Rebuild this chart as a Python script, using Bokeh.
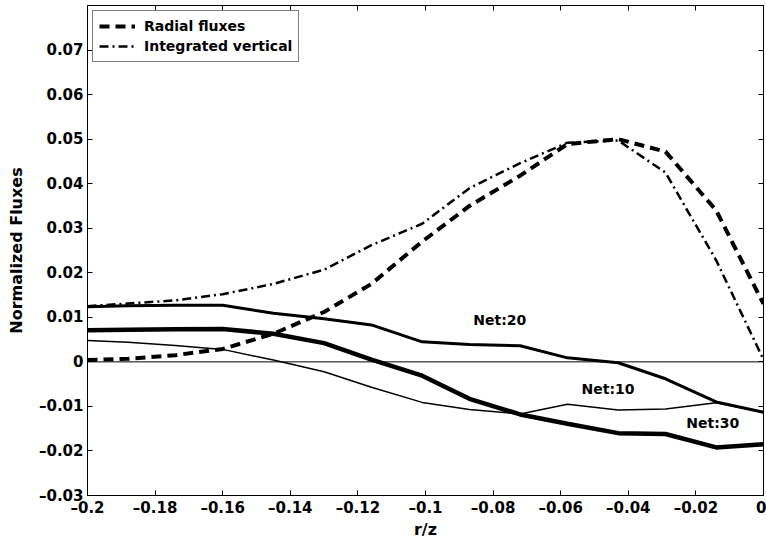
from bokeh.plotting import figure
from bokeh.models import (Range1d, LinearAxis, FixedTicker, Span, Legend,
                          LegendItem, Label)
from bokeh.embed import file_html
from bokeh.resources import INLINE

# radial position grid (r/z)
r_z = [-0.2, -0.188, -0.174, -0.16, -0.145, -0.13, -0.116, -0.101,
       -0.087, -0.072, -0.058, -0.043, -0.029, -0.014, 0.0]

radial_fluxes = [0.0004, 0.0007, 0.0015, 0.0029, 0.0063, 0.0112, 0.0175, 0.0270,
                 0.0350, 0.0418, 0.0489, 0.0500, 0.0472, 0.0340, 0.0130]
integrated_vertical = [0.0125, 0.0131, 0.0138, 0.0152, 0.0175, 0.0207, 0.0262, 0.0310,
                       0.0390, 0.0446, 0.0492, 0.0497, 0.0425, 0.0228, 0.0005]
net_10 = [0.0048, 0.0044, 0.0037, 0.0028, 0.0004, -0.0022, -0.0057, -0.0091,
          -0.0107, -0.0117, -0.0095, -0.0108, -0.0106, -0.0092, -0.0113]
net_20 = [0.0124, 0.0126, 0.0127, 0.0127, 0.0109, 0.0097, 0.0083, 0.0045,
          0.0039, 0.0036, 0.0009, -0.0002, -0.0038, -0.0090, -0.0113]
net_30 = [0.0071, 0.0072, 0.0073, 0.0074, 0.0063, 0.0042, 0.0005, -0.0031,
          -0.0083, -0.0118, -0.0139, -0.0160, -0.0162, -0.0192, -0.0185]

x_ticks = [-0.2, -0.18, -0.16, -0.14, -0.12, -0.1, -0.08, -0.06, -0.04, -0.02, 0]
y_ticks = [-0.03, -0.02, -0.01, 0, 0.01, 0.02, 0.03, 0.04, 0.05, 0.06, 0.07]
x_tick_labels = ["\u20130.2", "\u20130.18", "\u20130.16", "\u20130.14", "\u20130.12",
                 "\u20130.1", "\u20130.08", "\u20130.06", "\u20130.04", "\u20130.02", "0"]
y_tick_labels = ["\u20130.03", "\u20130.02", "\u20130.01", "0", "0.01", "0.02",
                 "0.03", "0.04", "0.05", "0.06", "0.07"]

# curve annotations: (text, x, y)
net_labels = [("Net:20", -0.078, 0.0093), ("Net:10", -0.046, -0.0060),
              ("Net:30", -0.015, -0.0138)]

FONT = "DejaVu Sans"

p = figure(width=766, height=541, output_backend="svg", toolbar_location=None,
           x_range=Range1d(-0.2, 0.0), y_range=Range1d(-0.03, 0.08),
           min_border_left=87, min_border_right=3, min_border_top=5,
           min_border_bottom=46)
p.background_fill_color = "white"
p.border_fill_color = "white"
p.outline_line_color = "black"
p.outline_line_width = 1
p.xgrid.visible = False
p.ygrid.visible = False

for ax, ticks, labels in ((p.xaxis[0], x_ticks, x_tick_labels),
                          (p.yaxis[0], y_ticks, y_tick_labels)):
    ax.ticker = FixedTicker(ticks=ticks)
    ax.major_label_overrides = dict(zip(ticks, labels))
    ax.minor_tick_line_color = None
    ax.major_tick_in = 5
    ax.major_tick_out = 0
    ax.axis_line_color = "black"
    ax.major_label_text_font = FONT
    ax.major_label_text_font_style = "bold"
    ax.major_label_text_font_size = "15px"
    ax.major_label_text_color = "black"
    ax.axis_label_text_font = FONT
    ax.axis_label_text_font_style = "bold"
    ax.axis_label_text_font_size = "16px"
    ax.axis_label_text_color = "black"

p.xaxis.axis_label = "r/z"
p.yaxis.axis_label = "Normalized Fluxes"
p.xaxis.major_label_standoff = 3
p.yaxis.major_label_standoff = 4
p.xaxis.axis_label_standoff = 0
p.yaxis.axis_label_standoff = 10

# mirrored ticks on the top and right edges of the box
top_ax = LinearAxis(ticker=FixedTicker(ticks=x_ticks), major_label_text_font_size="0px",
                    major_tick_in=5, major_tick_out=0, minor_tick_line_color=None,
                    axis_line_color="black")
right_ax = LinearAxis(ticker=FixedTicker(ticks=y_ticks), major_label_text_font_size="0px",
                      major_tick_in=5, major_tick_out=0, minor_tick_line_color=None,
                      axis_line_color="black")
p.add_layout(top_ax, "above")
p.add_layout(right_ax, "right")

p.add_layout(Span(location=0, dimension="width", line_color="black", line_width=1))

r_rad = p.line(r_z, radial_fluxes, line_color="black", line_width=4, line_dash="10 6")
r_int = p.line(r_z, integrated_vertical, line_color="black", line_width=2.5,
               line_dash="9 4 2 4")
p.line(r_z, net_10, line_color="black", line_width=1.5)
p.line(r_z, net_20, line_color="black", line_width=3)
p.line(r_z, net_30, line_color="black", line_width=4.5)

for txt, lx, ly in net_labels:
    p.add_layout(Label(x=lx, y=ly, text=txt, text_font=FONT, text_font_style="bold",
                       text_font_size="14px", text_align="center",
                       text_baseline="middle", text_color="black"))

legend = Legend(items=[LegendItem(label="Radial fluxes", renderers=[r_rad]),
                       LegendItem(label="Integrated vertical", renderers=[r_int])],
                location="top_left")
legend.label_text_font = FONT
legend.label_text_font_style = "bold"
legend.label_text_font_size = "14px"
legend.label_text_color = "black"
legend.label_standoff = 9
legend.label_height = 18
legend.glyph_height = 18
legend.glyph_width = 36
legend.spacing = 2
legend.padding = 6
legend.margin = 5
legend.border_line_color = "black"
legend.border_line_width = 1
legend.background_fill_alpha = 1
p.add_layout(legend)

open("out.html", "w").write(file_html(p, INLINE))
